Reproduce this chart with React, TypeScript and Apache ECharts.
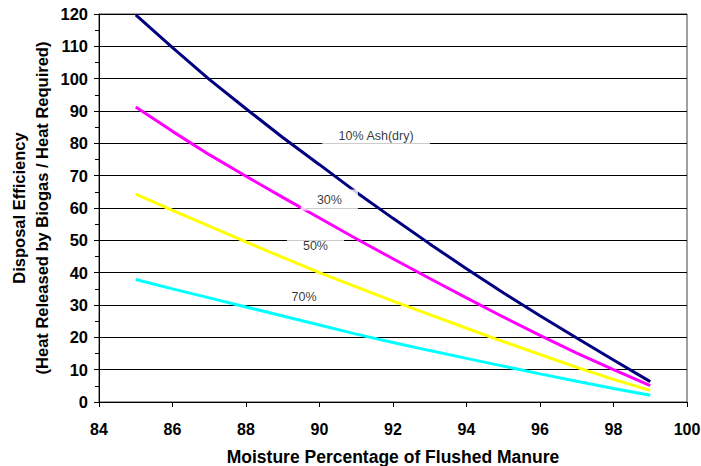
import React, { useEffect, useRef } from 'react';
import * as echarts from 'echarts';

const moisture = [85, 86, 87, 88, 89, 90, 91, 92, 93, 94, 95, 96, 97, 98, 99];
const ash10 = [119.7, 109.6, 99.8, 90.7, 81.8, 73.4, 64.9, 56.8, 48.9, 41.2, 33.8, 26.7, 19.8, 13.0, 6.3];
const ash30 = [91.2, 83.7, 76.5, 69.8, 63.3, 56.9, 50.5, 44.3, 38.2, 32.2, 26.3, 20.6, 15.1, 10.0, 5.1];
const ash50 = [64.3, 59.3, 54.4, 49.5, 44.7, 40.0, 35.6, 31.2, 27.0, 22.8, 18.7, 14.7, 10.7, 7.0, 3.6];
const ash70 = [37.9, 35.0, 32.2, 29.4, 26.6, 23.8, 21.0, 18.4, 15.9, 13.5, 11.1, 8.7, 6.4, 4.2, 2.1];

const seriesNames = ['10% Ash(dry)', '30%', '50%', '70%'];
const seriesColors = ['#000080', '#FF00FF', '#FFFF00', '#00FFFF'];
const seriesValues = [ash10, ash30, ash50, ash70];

const labelTexts = ['10% Ash(dry)', '30%', '50%', '70%'];
const labelX = [91.54, 90.27, 89.89, 89.58];
const labelY = [82.3, 62.5, 48.2, 32.5];
const labelBoxed = [true, true, true, false];

const xTitle = 'Moisture Percentage of Flushed Manure';
const yTitle = 'Disposal Efficiency\n(Heat Released by Biogas / Heat Required)';

const FONT = '"Liberation Sans", Arial, Helvetica, sans-serif';

export default function App() {
  const ref = useRef<HTMLDivElement>(null);
  useEffect(() => {
    const chart = echarts.init(ref.current as HTMLDivElement, null, { renderer: 'svg' });
    chart.setOption({
      animation: false,
      backgroundColor: '#ffffff',
      textStyle: { fontFamily: FONT },
      grid: {
        left: 99,
        right: 14,
        top: 14,
        bottom: 64,
        outerBoundsMode: 'none',
        containLabel: false,
        show: true,
        borderColor: '#404040',
        borderWidth: 1,
        backgroundColor: 'transparent',
      },
      xAxis: {
        type: 'value',
        min: 84,
        max: 100,
        interval: 2,
        axisLine: { show: true, lineStyle: { color: '#000', width: 1 } },
        axisTick: { show: true, inside: false, length: 5, lineStyle: { color: '#000' } },
        splitLine: { show: false },
        axisLabel: { fontSize: 16, fontWeight: 'bold', color: '#000', margin: 19.5, fontFamily: FONT },
        name: xTitle,
        nameLocation: 'middle',
        nameGap: 46,
        nameMoveOverlap: false,
        nameTextStyle: { fontSize: 17.5, fontWeight: 'bold', color: '#000', fontFamily: FONT },
      },
      yAxis: {
        type: 'value',
        min: 0,
        max: 120,
        interval: 10,
        axisLine: { show: true, lineStyle: { color: '#000', width: 1 } },
        axisTick: { show: true, inside: false, length: 5, lineStyle: { color: '#000' } },
        minorTick: { show: true, splitNumber: 2, length: 4, lineStyle: { color: '#000' } },
        splitLine: { show: true, lineStyle: { color: '#000', width: 1 } },
        axisLabel: { fontSize: 16.5, fontWeight: 'bold', color: '#000', margin: 11, fontFamily: FONT },
        name: yTitle,
        nameLocation: 'middle',
        nameGap: 46,
        nameMoveOverlap: false,
        nameRotate: 90,
        nameTextStyle: { fontSize: 16.5, fontWeight: 'bold', color: '#000', lineHeight: 23, fontFamily: FONT },
      },
      series: [
        ...seriesValues.map((vals, si) => ({
          type: 'line',
          name: seriesNames[si],
          data: moisture.map((m, i) => [m, vals[i]]),
          showSymbol: false,
          symbol: 'none',
          lineStyle: { width: 3, color: seriesColors[si] },
          itemStyle: { color: seriesColors[si] },
          z: 2,
        })),
        {
          type: 'scatter',
          name: 'labels',
          symbolSize: 0,
          z: 10,
          silent: true,
          data: labelTexts.map((t, i) => ({
            name: t,
            value: [labelX[i], labelY[i]],
            label: {
              show: true,
              position: 'inside',
              formatter: '{b}',
              fontSize: 12.5,
              color: '#000',
              fontFamily: FONT,
              backgroundColor: labelBoxed[i] ? '#ffffff' : 'transparent',
              padding: [4, 16],
            },
          })),
        },
      ],
    });
    return () => chart.dispose();
  }, []);
  return (
    <div
      ref={ref}
      style={{ position: 'fixed', left: 0, top: 0, width: 701, height: 466, background: '#fff' }}
    />
  );
}
